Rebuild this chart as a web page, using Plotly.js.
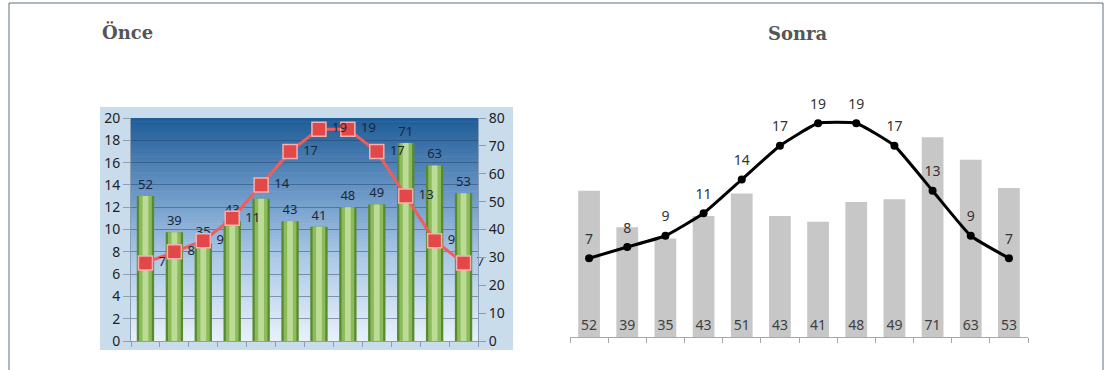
<!DOCTYPE html>
<html>
<head>
<meta charset="utf-8">
<script src="https://cdn.plot.ly/plotly-3.0.1.min.js"></script>
<style>html,body{margin:0;padding:0;background:#fff;}#chart{width:1107px;height:370px;}</style>
</head>
<body>
<div id="chart"></div>
<script>
// ---- data ----
const months = ['Oca','Şub','Mar','Nis','May','Haz','Tem','Ağu','Eyl','Eki','Kas','Ara'];
const rainfall = [52,39,35,43,51,43,41,48,49,71,63,53];
const temperature = [7,8,9,11,14,17,19,19,17,13,9,7];
const titles = ['Önce','Sonra'];

// ---- helpers ----
const W = 1107, H = 370;
const px = x => x / W;
const py = y => (H - y) / H;
const lbl = v => v.map(String);

// gradient background for the left plot area
function lerp(a, b, t){ return a + (b - a) * t; }
const stops = [[0,[30,92,150]],[0.33,[105,150,198]],[0.62,[170,200,230]],[1,[232,241,249]]];
function colAt(t){
  for (let i = 0; i < stops.length - 1; i++){
    const [t0,c0] = stops[i], [t1,c1] = stops[i+1];
    if (t <= t1){
      const u = (t - t0) / (t1 - t0);
      return 'rgb(' + c0.map((c,k)=>Math.round(lerp(c, c1[k], u))).join(',') + ')';
    }
  }
  return 'rgb(232,241,249)';
}
const shapes = [];
shapes.push({type:'rect', xref:'paper', yref:'paper', x0:px(100), x1:px(513), y0:py(350), y1:py(107),
  fillcolor:'#c9dcec', line:{width:0}, layer:'below'});
const gTop = 118, gBot = 341, N = 70;
for (let i = 0; i < N; i++){
  const y0 = gTop + (gBot - gTop) * i / N, y1 = gTop + (gBot - gTop) * (i + 1) / N + 0.6;
  shapes.push({type:'rect', xref:'paper', yref:'paper', x0:px(131), x1:px(478), y0:py(y1), y1:py(y0),
    fillcolor:colAt((i + 0.5) / N), line:{width:0}, layer:'below'});
}
// outer frame
shapes.push({type:'rect', xref:'paper', yref:'paper', x0:px(9), x1:px(1103), y0:-0.1, y1:py(3),
  line:{color:'#5f6f7f', width:1}, fillcolor:'rgba(0,0,0,0)', layer:'above'});

const labelFont = {family:'Noto Sans, Liberation Sans, sans-serif', size:13, color:'#1c2636'};

const traces = [
  // left chart: cylinder-like bars (three overlaid widths)
  {type:'bar', x:months, y:rainfall, xaxis:'x', yaxis:'y', width:0.6,
   marker:{color:'#5a8a30', line:{width:0}}, text:lbl(rainfall), textposition:'outside',
   constraintext:'none', cliponaxis:false, outsidetextfont:labelFont, hoverinfo:'skip'},
  {type:'bar', x:months, y:rainfall, xaxis:'x', yaxis:'y', width:0.44,
   marker:{color:'#8cbb5c', line:{width:0}}, hoverinfo:'skip'},
  {type:'bar', x:months, y:rainfall, xaxis:'x', yaxis:'y', width:0.2,
   marker:{color:'#bcdb96', line:{width:0}}, hoverinfo:'skip'},
  // left chart: red line
  {type:'scatter', x:months, y:temperature, xaxis:'x', yaxis:'y2', mode:'lines+markers+text',
   line:{color:'#f05c5c', width:3}, marker:{symbol:'square', size:14, color:'#e24848', line:{color:'#f7b0b0', width:1.5}},
   text:lbl(temperature), texttemplate:'\u00a0%{text}', textposition:'middle right', textfont:labelFont,
   cliponaxis:false, hoverinfo:'skip'},
  // right chart: gray bars
  {type:'bar', x:months, y:rainfall, xaxis:'x2', yaxis:'y3', width:0.57,
   marker:{color:'#c7c7c7', line:{width:0}}, text:lbl(rainfall), textposition:'inside', insidetextanchor:'start',
   constraintext:'none', insidetextfont:{family:'Noto Sans, sans-serif', size:14, color:'#3f3f3f'}, hoverinfo:'skip'},
  // right chart: black smooth line
  {type:'scatter', x:months, y:temperature, xaxis:'x2', yaxis:'y4', mode:'lines+markers',
   line:{color:'#000', width:3, shape:'spline', smoothing:0.4}, marker:{size:8, color:'#000'},
   cliponaxis:false, hoverinfo:'skip'},
  {type:'scatter', x:months, y:temperature, xaxis:'x2', yaxis:'y4', mode:'markers+text',
   marker:{size:16, opacity:0}, text:lbl(temperature), textposition:'top center',
   textfont:{family:'Noto Sans, sans-serif', size:14, color:'#333'}, cliponaxis:false, hoverinfo:'skip'}
];

const axLine = '#8a9fb5';
const tickFont = {family:'Noto Sans, Liberation Sans, sans-serif', size:14, color:'#222'};
const layout = {
  width:W, height:H, margin:{l:0, r:0, t:0, b:0},
  paper_bgcolor:'#fff', plot_bgcolor:'rgba(0,0,0,0)',
  showlegend:false, barmode:'overlay',
  xaxis:{domain:[px(131), px(478)], anchor:'y', type:'category', range:[-0.5, 11.5],
    showticklabels:false, ticks:'outside', tickson:'boundaries', ticklen:5, tickcolor:axLine,
    showline:true, linecolor:axLine, showgrid:false, zeroline:false, fixedrange:true},
  yaxis:{domain:[py(341), py(118)], anchor:'x', side:'right', range:[0,80], dtick:10,
    ticks:'outside', ticklen:7, tickcolor:axLine, showline:true, linecolor:axLine,
    showgrid:false, zeroline:false, tickfont:tickFont, fixedrange:true},
  yaxis2:{overlaying:'y', anchor:'x', side:'left', range:[0,20], dtick:2,
    ticks:'outside', ticklen:7, tickcolor:axLine, showline:true, linecolor:axLine,
    showgrid:true, gridcolor:'rgba(30,60,100,0.45)', gridwidth:1, zeroline:false, tickfont:tickFont, fixedrange:true},
  xaxis2:{domain:[px(570), px(1028)], anchor:'y3', type:'category', range:[-0.5, 11.5],
    showticklabels:false, ticks:'outside', tickson:'boundaries', ticklen:5, tickcolor:'#a8a8a8',
    showline:true, linecolor:'#a8a8a8', linewidth:1, showgrid:false, zeroline:false, fixedrange:true},
  yaxis3:{domain:[py(337), py(112)], anchor:'x2', range:[0,80], visible:false, fixedrange:true},
  yaxis4:{overlaying:'y3', anchor:'x2', range:[0,20], visible:false, fixedrange:true},
  shapes:shapes,
  annotations:[
    {text:titles[0], xref:'paper', yref:'paper', x:px(100), y:py(32), xanchor:'left', yanchor:'middle', showarrow:false,
     font:{family:'DejaVu Serif, serif', size:18, color:'#555', weight:'bold'}},
    {text:titles[1], xref:'paper', yref:'paper', x:px(798), y:py(34), xanchor:'center', yanchor:'middle', showarrow:false,
     font:{family:'DejaVu Serif, serif', size:18, color:'#555', weight:'bold'}}
  ]
};
Plotly.newPlot('chart', traces, layout, {staticPlot:true, displayModeBar:false});
</script>
</body>
</html>
